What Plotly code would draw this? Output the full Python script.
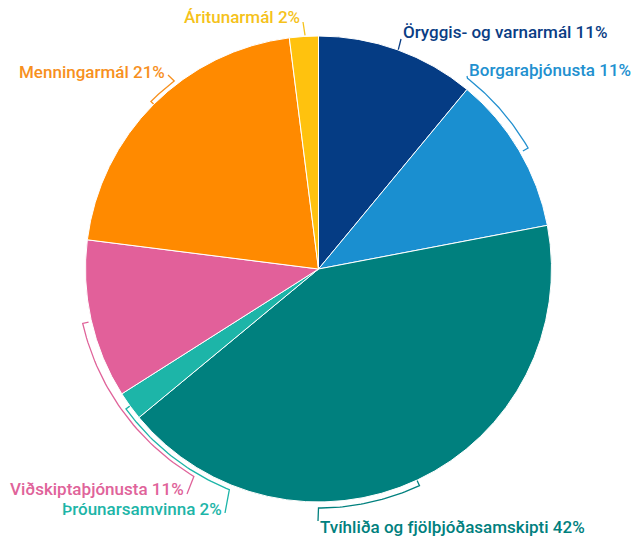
import numpy as np
import plotly.graph_objects as go

# ---------------- data ----------------
categories = [
    "Öryggis- og varnarmál",
    "Borgaraþjónusta",
    "Tvíhliða og fjölþjóðasamskipti",
    "Þróunarsamvinna",
    "Viðskiptaþjónusta",
    "Menningarmál",
    "Áritunarmál",
]
shares = [11, 11, 42, 2, 11, 21, 2]
label_texts = [f"{c} {v}%" for c, v in zip(categories, shares)]

# ---------------- style ----------------
slice_colors = ["#053c84", "#1a8fd0", "#00807e", "#1db5a8", "#e2609a", "#ff8a00", "#ffc20e"]
text_colors = ["#0a3d84", "#2290cf", "#00807e", "#1db5a8", "#e0639a", "#f7901e", "#f5c21a"]

W, H = 635, 539
CX, CY, R = 318.5, 269.0, 233.0

# label layout: text anchor (x, y, xanchor), link point near text,
# arc (start angle at link side, end angle, radius), inward tick at end?
label_layout = [
    dict(tx=401, ty=32, xa="left", link=(401, 39), a0=20, a1=20, r=233, tick=False),
    dict(tx=467, ty=70, xa="left", link=(467, 76), a0=38, a1=60, r=242, tick=True),
    dict(tx=318, ty=527, xa="left", link=(318, 521), a0=180, a1=155, r=239, tick=True),
    dict(tx=224, ty=509, xa="right", link=(225, 513), a0=202, a1=234, r=238, tick=True),
    dict(tx=186, ty=489, xa="right", link=(187, 494), a0=211, a1=257, r=242, tick=True),
    dict(tx=167, ty=72, xa="right", link=(168, 75), a0=322.5, a1=315, r=237, tick=True),
    dict(tx=302, ty=17, xa="right", link=(303, 22), a0=356.7, a1=356.7, r=234, tick=False),
]


def polar(a_deg, r):
    a = np.radians(a_deg)
    return CX + r * np.sin(a), CY - r * np.cos(a)


fig = go.Figure()

# pie
fig.add_trace(go.Pie(
    labels=categories,
    values=shares,
    sort=False,
    direction="clockwise",
    rotation=0,
    marker=dict(colors=slice_colors, line=dict(color="white", width=1)),
    textinfo="none",
    showlegend=False,
    domain=dict(x=[(CX - R) / W, (CX + R) / W],
                y=[(H - CY - R) / H, (H - CY + R) / H]),
))

# bracket leader lines
for lay, col in zip(label_layout, text_colors):
    xs, ys = [lay["link"][0]], [lay["link"][1]]
    angs = np.linspace(lay["a0"], lay["a1"], 40)
    px, py = polar(angs, lay["r"])
    xs += list(px)
    ys += list(py)
    if lay["tick"]:
        tx, ty = polar(lay["a1"], lay["r"] - 6)
        xs.append(tx)
        ys.append(ty)
    fig.add_trace(go.Scatter(
        x=xs, y=ys, mode="lines",
        line=dict(color=col, width=1.3),
        hoverinfo="skip", showlegend=False,
    ))

# labels
for lay, txt, col in zip(label_layout, label_texts, text_colors):
    fig.add_annotation(
        x=lay["tx"], y=lay["ty"], xref="x", yref="y",
        text=txt, showarrow=False,
        xanchor=lay["xa"], yanchor="middle",
        font=dict(family="Roboto", size=17, color=col, weight=500),
    )

fig.update_layout(
    width=W, height=H,
    margin=dict(l=0, r=0, t=0, b=0),
    paper_bgcolor="white", plot_bgcolor="rgba(0,0,0,0)",
    xaxis=dict(range=[0, W], visible=False, fixedrange=True),
    yaxis=dict(range=[H, 0], visible=False, fixedrange=True),
)

fig.write_html("out.html", config={"displayModeBar": False},
               post_script="document.body.style.margin='0';")
